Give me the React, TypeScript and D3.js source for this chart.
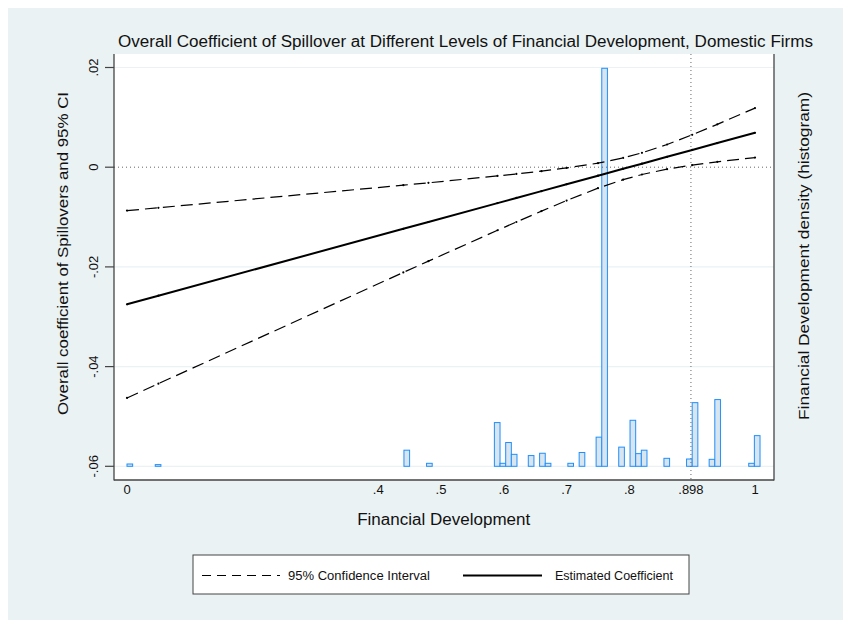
import React from 'react';
import * as d3 from 'd3';

// ---- data ----
const xTickValues = [0, 0.4, 0.5, 0.6, 0.7, 0.8, 0.898, 1];
const xTickLabels = ['0', '.4', '.5', '.6', '.7', '.8', '.898', '1'];
const yTickValues = [-0.06, -0.04, -0.02, 0, 0.02];
const yTickLabels = ['-.06', '-.04', '-.02', '0', '.02'];

const fdPoints = [0, 0.05, 0.44, 0.48, 0.59, 0.62, 0.66, 0.70, 0.75, 0.79, 0.82, 0.86, 0.90, 0.94, 1.0];
const coefValues = [-0.0275, -0.02578, -0.01236, -0.01099, -0.0072, -0.00617, -0.0048, -0.00342, -0.0017, -0.00032, 0.00071, 0.00208, 0.00346, 0.00484, 0.0069];
const upperValues = [-0.00871, -0.00814, -0.00361, -0.00313, -0.00175, -0.00135, -0.00079, -0.00015, 0.00081, 0.00186, 0.00288, 0.00455, 0.0065, 0.0086, 0.01186];
const lowerValues = [-0.04629, -0.04342, -0.02111, -0.01885, -0.01265, -0.01099, -0.00881, -0.00669, -0.00421, -0.0025, -0.00146, -0.00039, 0.00042, 0.00108, 0.00194];

const binWidth = 0.009;
const histStart = [0, 0.045, 0.441, 0.477, 0.585, 0.594, 0.603, 0.612, 0.639, 0.657, 0.666, 0.702, 0.72, 0.747, 0.756, 0.783, 0.801, 0.81, 0.819, 0.855, 0.891, 0.9, 0.927, 0.936, 0.99, 0.999];
const histDensity = [0.3, 0.22, 2.1, 0.39, 5.7, 0.39, 3.1, 1.56, 1.4, 1.7, 0.39, 0.39, 1.8, 3.8, 51.9, 2.5, 6.0, 1.65, 2.1, 1.04, 0.95, 8.3, 0.91, 8.7, 0.39, 4.0];
const densityMax = 52;

const refLineX = 0.898;

const titleText = 'Overall Coefficient of Spillover at Different Levels of Financial Development, Domestic Firms';
const yTitle = 'Overall coefficient of Spillovers and 95% CI';
const y2Title = 'Financial Development density (histogram)';
const xTitle = 'Financial Development';
const legendCI = '95% Confidence Interval';
const legendCoef = 'Estimated Coefficient';

const FONT = '"Liberation Sans", Arial, Helvetica, sans-serif';
const BG = '#eaf2f3';

export default function App() {
  // page-coordinate layout
  const plotL = 114, plotR = 774, plotT = 54, plotB = 480;
  const x = d3.scaleLinear().domain([0, 1]).range([127, 755]);
  const y = d3.scaleLinear().domain([-0.06, 0.02]).range([466.3, 67.5]);
  const yd = d3.scaleLinear().domain([0, densityMax]).range([466.3, 67.5]);

  const mk = (vals: number[]) => fdPoints.map((p, i) => [p, vals[i]] as [number, number]);
  const line = d3.line<[number, number]>().x(d => x(d[0])).y(d => y(d[1]));

  const dash = '12,6';

  return (
    <svg width={835} height={612} style={{ position: 'absolute', left: 8, top: 8, display: 'block' }}>
      <g transform="translate(-8,-8)" fontFamily={FONT}>
        <rect x={8} y={8} width={835} height={612} fill={BG} />
        <rect x={plotL} y={plotT} width={plotR - plotL} height={plotB - plotT} fill="#ffffff" />

        {/* gridlines */}
        {yTickValues.filter(v => v !== 0).map(v => (
          <line key={'g' + v} x1={plotL} x2={plotR} y1={y(v)} y2={y(v)} stroke={BG} strokeWidth={1.2} />
        ))}

        {/* histogram */}
        {histStart.map((s, i) => (
          <rect key={'h' + i} x={x(s)} y={yd(histDensity[i])} width={x(s + binWidth) - x(s)}
            height={yd(0) - yd(histDensity[i])} fill="#d9e5ee" stroke="#1e8fff" strokeWidth={1} />
        ))}

        {/* reference lines */}
        <line x1={plotL} x2={plotR} y1={y(0)} y2={y(0)} stroke="#666" strokeWidth={1} strokeDasharray="1,3" />
        <line x1={x(refLineX)} x2={x(refLineX)} y1={plotT} y2={plotB} stroke="#666" strokeWidth={1} strokeDasharray="1,3" />

        {/* CI and coefficient */}
        <path d={line(mk(upperValues)) || ''} fill="none" stroke="#000" strokeWidth={1.2} strokeDasharray={dash} />
        <path d={line(mk(lowerValues)) || ''} fill="none" stroke="#000" strokeWidth={1.2} strokeDasharray={dash} />
        <path d={line(mk(coefValues)) || ''} fill="none" stroke="#000" strokeWidth={2} />
        {[upperValues, lowerValues, coefValues].map((vals, j) =>
          fdPoints.map((p, i) => (
            <circle key={'m' + j + '-' + i} cx={x(p)} cy={y(vals[i])} r={1.1} fill="#000" />
          ))
        )}

        {/* axes */}
        <line x1={plotL} x2={plotL} y1={plotT} y2={plotB + 0.5} stroke="#444" strokeWidth={1.3} />
        <line x1={plotL} x2={plotR} y1={plotB} y2={plotB} stroke="#444" strokeWidth={1.3} />
        <line x1={plotR} x2={plotR} y1={plotT} y2={plotB + 0.5} stroke="#444" strokeWidth={1.3} />

        {yTickValues.map((v, i) => (
          <g key={'yt' + v}>
            <line x1={plotL - 9} x2={plotL} y1={y(v)} y2={y(v)} stroke="#444" strokeWidth={1.2} />
            <text transform={`translate(93,${y(v)}) rotate(-90)`} textAnchor="middle" dominantBaseline="central"
              fontSize={13} fill="#111">{yTickLabels[i]}</text>
          </g>
        ))}
        {xTickValues.map((v, i) => (
          <text key={'xt' + v} x={x(v)} y={494} textAnchor="middle" fontSize={13} fill="#111">{xTickLabels[i]}</text>
        ))}

        {/* titles */}
        <text x={465.5} y={47} textAnchor="middle" fontSize={16} fill="#111"
          textLength={695} lengthAdjust="spacingAndGlyphs">{titleText}</text>
        <text transform="translate(62,253.5) rotate(-90)" textAnchor="middle" dominantBaseline="central"
          fontSize={15.5} fill="#111" textLength={323} lengthAdjust="spacingAndGlyphs">{yTitle}</text>
        <text transform="translate(803,256) rotate(-90)" textAnchor="middle" dominantBaseline="central"
          fontSize={15.5} fill="#111" textLength={328} lengthAdjust="spacingAndGlyphs">{y2Title}</text>
        <text x={443.7} y={524.5} textAnchor="middle" fontSize={16} fill="#111"
          textLength={173} lengthAdjust="spacingAndGlyphs">{xTitle}</text>

        {/* legend */}
        <rect x={193} y={555} width={496} height={39} fill="#ffffff" stroke="#444" strokeWidth={1} />
        <line x1={202} x2={280} y1={575.5} y2={575.5} stroke="#000" strokeWidth={1.2} strokeDasharray="9,6" />
        <text x={288} y={575.5} dominantBaseline="central" fontSize={12.5} fill="#111"
          textLength={142} lengthAdjust="spacingAndGlyphs">{legendCI}</text>
        <line x1={463} x2={542} y1={575.5} y2={575.5} stroke="#000" strokeWidth={2} />
        <text x={555} y={575.5} dominantBaseline="central" fontSize={12.5} fill="#111"
          textLength={118} lengthAdjust="spacingAndGlyphs">{legendCoef}</text>
      </g>
    </svg>
  );
}
